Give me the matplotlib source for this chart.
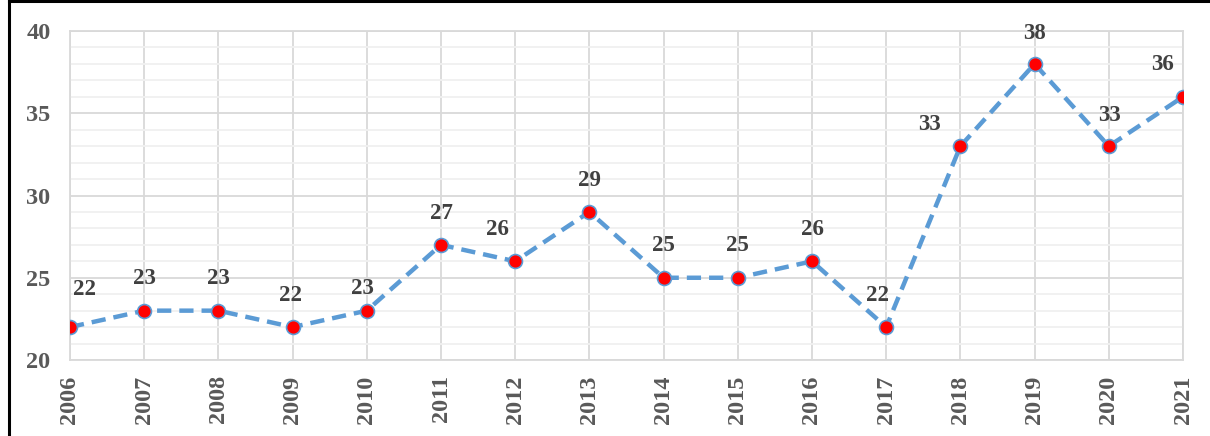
import matplotlib.pyplot as plt
from matplotlib.lines import Line2D
from matplotlib.ticker import MultipleLocator

years = [str(y) for y in range(2006, 2022)]
values = [22, 23, 23, 22, 23, 27, 26, 29, 25, 25, 26, 22, 33, 38, 33, 36]

# label offsets in pixels (dx, dy) relative to each point
offsets = [(14, 38), (0, 32), (0, 32), (-2, 32), (-4, 22), (0, 31), (-18, 32), (0, 31),
           (0, 32), (0, 32), (0, 32), (-9, 32), (-31, 22), (0, 30), (1, 31), (-20, 32)]

plt.rcParams['font.family'] = ['Liberation Serif', 'DejaVu Serif']
plt.rcParams['font.weight'] = 'bold'

fig = plt.figure(figsize=(12.1, 4.36), dpi=100)
ax = fig.add_axes([70 / 1210, 1 - 360 / 436, 1113 / 1210, 329 / 436])

x = list(range(len(years)))
ax.plot(x, values, linestyle=(0, (3.2, 1.8)), color='#5b9bd5', linewidth=3.2,
        marker='o', markersize=10, markerfacecolor='#ff0000',
        markeredgecolor='#5b9bd5', markeredgewidth=1.2, zorder=3)

for xi, v, (dx, dy) in zip(x, values, offsets):
    ax.annotate(str(v), (xi, v), xytext=(dx, dy), textcoords='offset pixels',
                ha='center', va='center', fontsize=16.5, fontweight='bold',
                color='#404040')

ax.set_xlim(0, len(years) - 1)
ax.set_ylim(20, 40)
ax.set_xticks(x)
ax.set_xticklabels(years, rotation=90)
ax.yaxis.set_major_locator(MultipleLocator(5))
ax.yaxis.set_minor_locator(MultipleLocator(1))

ax.grid(which='major', color='#d9d9d9', linewidth=1.3)
ax.grid(which='minor', axis='y', color='#f0f0f0', linewidth=1.3)
ax.set_axisbelow(True)
for s in ax.spines.values():
    s.set_color('#d9d9d9')
    s.set_linewidth(1.3)

ax.tick_params(axis='both', which='both', length=0, labelcolor='#595959', labelsize=17.5)
ax.tick_params(axis='y', pad=14)
ax.tick_params(axis='x', pad=11)

# outer frame (top and left only)
fig.add_artist(Line2D([9 / 1210, 1], [1 - 1.5 / 436, 1 - 1.5 / 436], color='black', linewidth=2.2))
fig.add_artist(Line2D([9 / 1210, 9 / 1210], [0, 1 - 1.5 / 436], color='black', linewidth=2.2))

fig.savefig('out.png', dpi=100)
